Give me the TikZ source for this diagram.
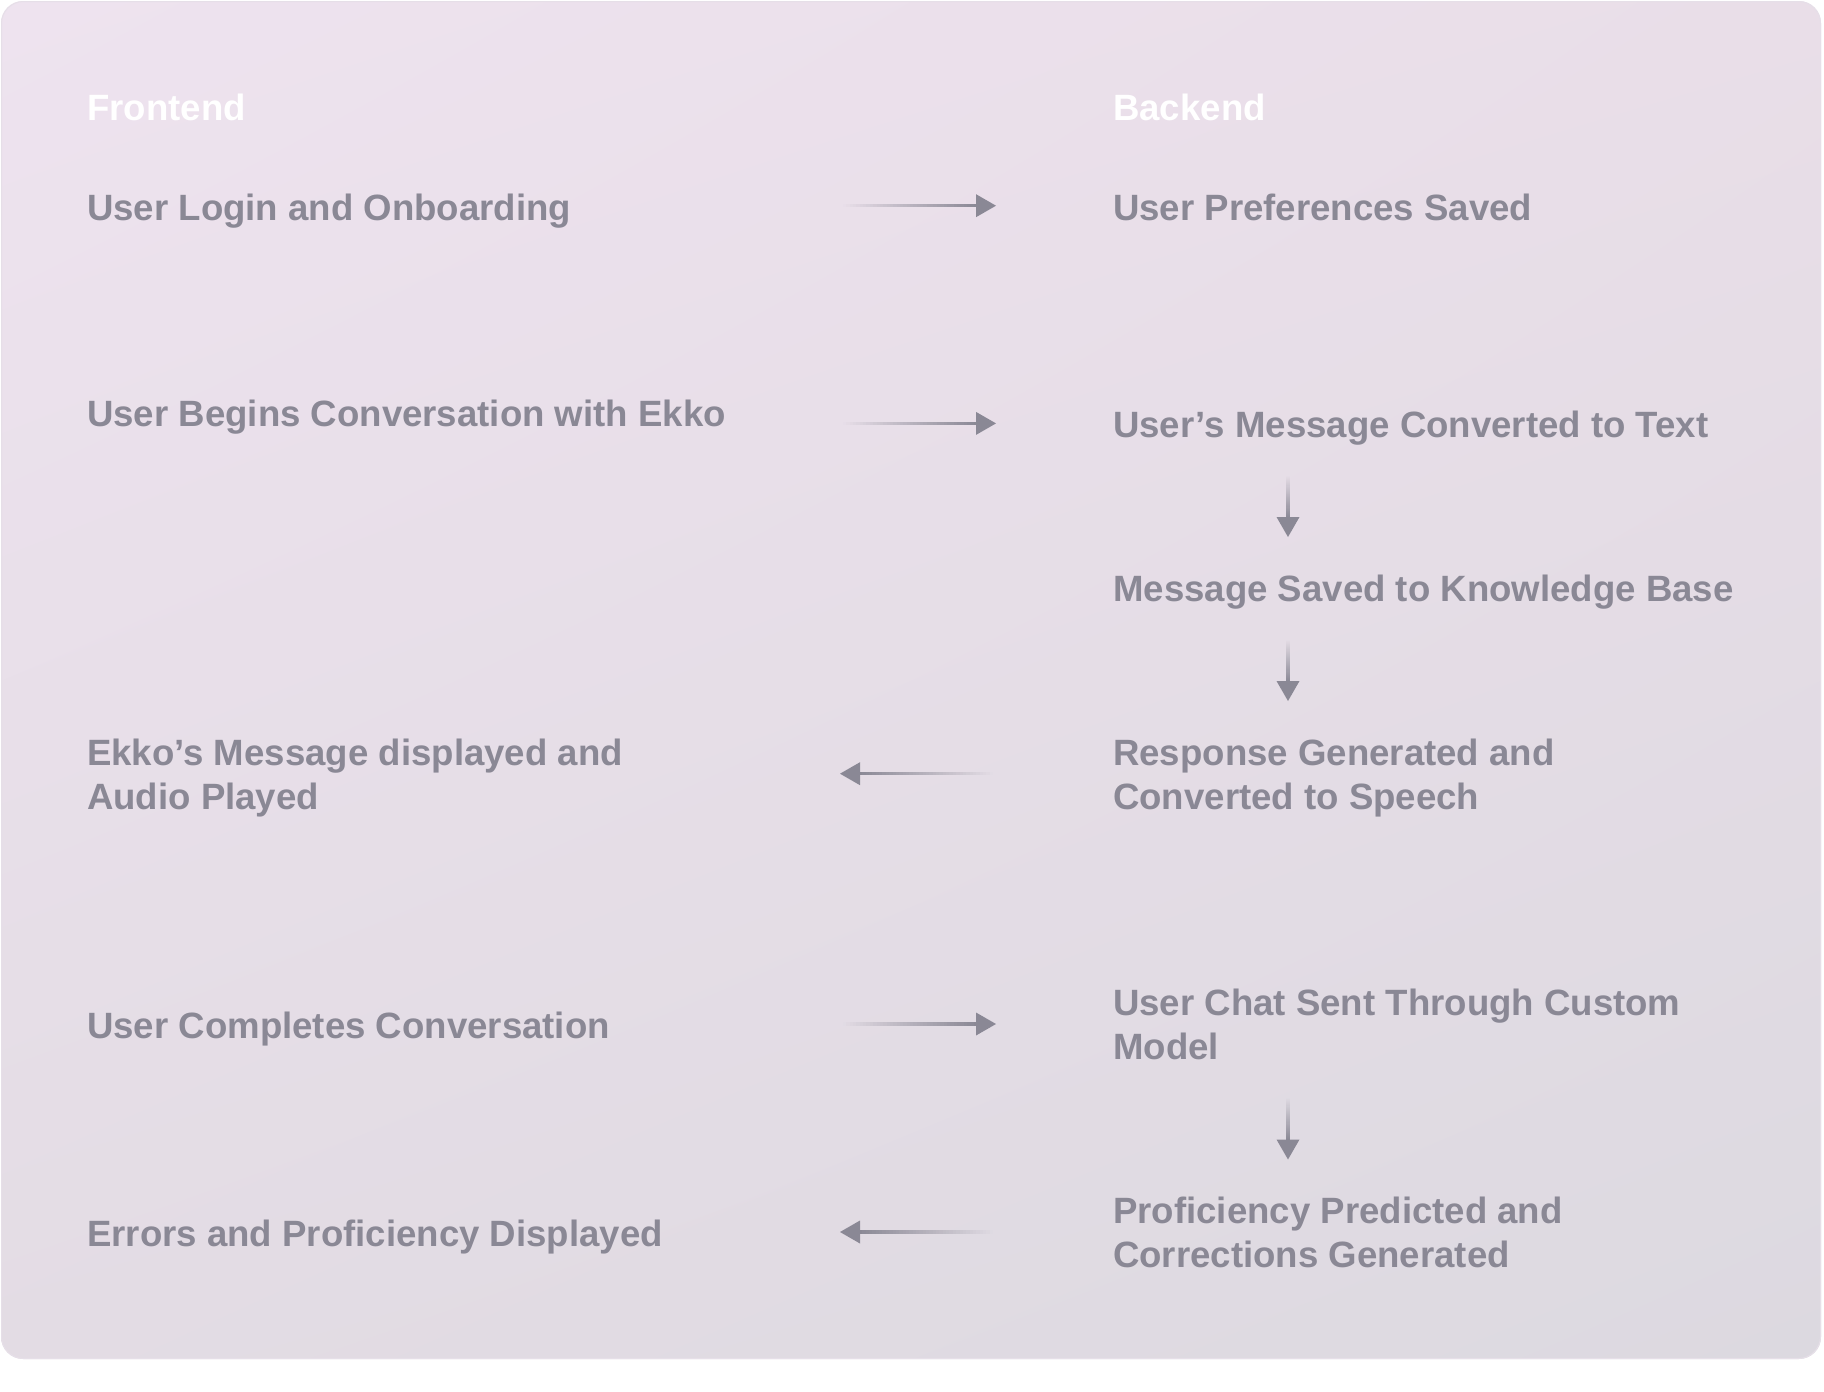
\documentclass[tikz,border=0pt]{standalone}
\usepackage{fontspec}
\setmainfont{Liberation Sans}
\usetikzlibrary{calc,shadings}
\definecolor{txtgray}{HTML}{8A8895}
\definecolor{arrowgray}{HTML}{8A8895}
\definecolor{bgUL}{HTML}{EEE3EF}
\definecolor{bgUR}{HTML}{E9DEE8}
\definecolor{bgLL}{HTML}{E3DCE4}
\definecolor{bgLR}{HTML}{DCD9E0}
\definecolor{panelborder}{HTML}{E6DFE8}
\newcommand\twoln[2]{\vtop{\hbox{#1}\hbox{#2}}}
% gradient shaft from #1 (transparent) to #2 (opaque), half-thickness vector #3
\newcommand\gshaft[3]{%
  \foreach \i in {0,...,39}{%
    \pgfmathsetmacro\ta{\i/40}%
    \pgfmathsetmacro\tb{(\i+1)/40}%
    \pgfmathsetmacro\op{(\i+0.5)/40}%
    \fill[arrowgray, fill opacity=\op] ($(#1)!\ta!(#2)-#3$) rectangle ($(#1)!\tb!(#2)+#3$);}}
\newcommand\arrR[2]{%
  \coordinate (hb) at ($(#2)+(-19,0)$);
  \gshaft{#1}{hb}{(0,1.6)}
  \fill[arrowgray] (#2) -- ($(#2)+(-20,-11.5)$) -- ($(#2)+(-20,11.5)$) -- cycle;}
\newcommand\arrL[2]{%
  \coordinate (hb) at ($(#2)+(19,0)$);
  \gshaft{#1}{hb}{(0,1.6)}
  \fill[arrowgray] (#2) -- ($(#2)+(20,-11.5)$) -- ($(#2)+(20,11.5)$) -- cycle;}
\newcommand\arrD[2]{%
  \coordinate (hb) at ($(#2)+(0,-19)$);
  \gshaft{#1}{hb}{(1.6,0)}
  \fill[arrowgray] (#2) -- ($(#2)+(-11.5,-20)$) -- ($(#2)+(11.5,-20)$) -- cycle;}
\begin{document}
\begin{tikzpicture}[x=1pt,y=-1pt,
  lbl/.style={anchor=base west, inner sep=0pt, text=txtgray,
    font=\fontsize{36.6}{44}\selectfont\bfseries},
  hdr/.style={lbl, text=white}]
\useasboundingbox (0,0) rectangle (1824,1392);
\fill[white] (0,0) rectangle (1824,1392);
\shade[rounded corners=22pt, upper left=bgUL, upper right=bgUR,
  lower left=bgLL, lower right=bgLR] (1,1) rectangle (1821,1359);
\draw[panelborder, line width=1pt, rounded corners=22pt] (1.5,1.5) rectangle (1820.5,1358.5);

% headers
\node[hdr] (fe) at (87,120) {Frontend};
\node[hdr] (be) at (1113,120) {Backend};

% left column
\node[lbl] (l1) at (87,220) {User Login and Onboarding};
\node[lbl] (l2) at (87,426) {User Begins Conversation with Ekko};
\node[lbl] (l3) at (87,765) {\twoln{Ekko’s Message displayed and}{Audio Played}};
\node[lbl] (l4) at (87,1038) {User Completes Conversation};
\node[lbl] (l5) at (87,1246) {Errors and Proficiency Displayed};

% right column
\node[lbl] (r1) at (1113,220) {User Preferences Saved};
\node[lbl] (r2) at (1113,437) {User’s Message Converted to Text};
\node[lbl] (r3) at (1113,601) {Message Saved to Knowledge Base};
\node[lbl] (r4) at (1113,765) {\twoln{Response Generated and}{Converted to Speech}};
\node[lbl] (r5) at (1113,1015) {\twoln{User Chat Sent Through Custom}{Model}};
\node[lbl] (r6) at (1113,1223) {\twoln{Proficiency Predicted and}{Corrections Generated}};

% connector end points
\coordinate (a1s) at (843,205.7);  \coordinate (a1e) at (996,205.7);
\coordinate (a2s) at (843,423.4);  \coordinate (a2e) at (996,423.4);
\coordinate (a3s) at (993,773.7);  \coordinate (a3e) at (840,773.7);
\coordinate (a4s) at (843,1024);   \coordinate (a4e) at (996,1024);
\coordinate (a5s) at (993,1232);   \coordinate (a5e) at (840,1232);
\coordinate (v1s) at (1288,476);   \coordinate (v1e) at (1288,537);
\coordinate (v2s) at (1288,640);   \coordinate (v2e) at (1288,701);
\coordinate (v3s) at (1288,1098);  \coordinate (v3e) at (1288,1159.5);

\arrR{a1s}{a1e}
\arrR{a2s}{a2e}
\arrL{a3s}{a3e}
\arrR{a4s}{a4e}
\arrL{a5s}{a5e}
\arrD{v1s}{v1e}
\arrD{v2s}{v2e}
\arrD{v3s}{v3e}
\end{tikzpicture}
\end{document}
